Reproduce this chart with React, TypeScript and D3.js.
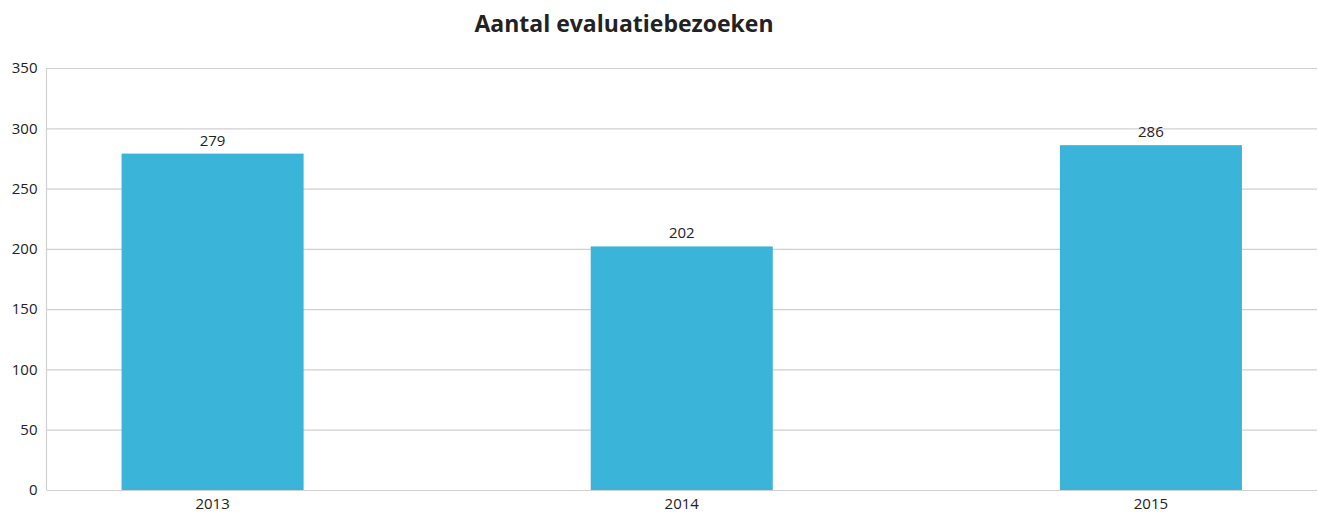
import { useEffect, useRef } from 'react'
import * as d3 from 'd3'

const years = ['2013', '2014', '2015']
const visits = [279, 202, 286]
const yTicks = [0, 50, 100, 150, 200, 250, 300, 350]

const W = 1318
const H = 513
const margin = { top: 68, right: 1, bottom: 23, left: 46.5 }
const font = '"Open Sans", "Noto Sans", sans-serif'

export default function App() {
  const ref = useRef<SVGSVGElement>(null)

  useEffect(() => {
    if (!ref.current) return
    d3.select(ref.current).selectAll('*').remove()
    render(ref.current)
  }, [])

  return (
    <svg
      ref={ref}
      width={W}
      height={H}
      style={{ position: 'absolute', left: 0, top: 0, display: 'block', background: '#fff' }}
    />
  )
}

function render(el: SVGSVGElement) {
  const svg = d3.select(el).style('font-family', font)
  const inner = { w: W - margin.left - margin.right, h: H - margin.top - margin.bottom }
  const g = svg.append('g').attr('transform', `translate(${margin.left},${margin.top})`)

  const x = d3.scaleBand().domain(years).range([0, inner.w]).paddingInner(0.612).paddingOuter(0.16)
  const y = d3.scaleLinear().domain([0, 350]).range([inner.h, 0])

  // Grid
  g.append('g')
    .call(d3.axisLeft(y).tickValues(yTicks).tickSize(-inner.w).tickFormat(() => ''))
    .call((sel) => sel.select('.domain').remove())
    .call((sel) => sel.selectAll('line').attr('stroke', '#d0d0d0').attr('stroke-width', 1.2))

  // Left axis line
  g.append('line')
    .attr('x1', 0).attr('x2', 0)
    .attr('y1', 0).attr('y2', inner.h)
    .attr('stroke', '#d0d0d0')
    .attr('stroke-width', 1.2)

  // Bars
  years.forEach((yr, i) => {
    const v = visits[i]
    g.append('rect')
      .attr('x', x(yr)!)
      .attr('y', y(v))
      .attr('width', x.bandwidth())
      .attr('height', inner.h - y(v))
      .attr('fill', '#3bb4da')

    g.append('text')
      .attr('x', x(yr)! + x.bandwidth() / 2)
      .attr('y', y(v) - 8)
      .attr('text-anchor', 'middle')
      .attr('font-size', 15)
      .attr('fill', '#222')
      .text(v)
  })

  // Y tick labels
  g.append('g')
    .call(d3.axisLeft(y).tickValues(yTicks).tickSize(0).tickPadding(9))
    .call((sel) => sel.select('.domain').remove())
    .call((sel) =>
      sel.selectAll('text')
        .attr('font-size', 15)
        .attr('fill', '#222')
        .attr('font-family', font)
    )

  // X tick labels
  g.append('g')
    .attr('transform', `translate(0,${inner.h})`)
    .call(d3.axisBottom(x).tickSize(0).tickPadding(8))
    .call((sel) => sel.select('.domain').remove())
    .call((sel) =>
      sel.selectAll('text')
        .attr('font-size', 15)
        .attr('fill', '#222')
        .attr('font-family', font)
    )

  // Title
  svg.append('text')
    .attr('x', 624)
    .attr('y', 32)
    .attr('text-anchor', 'middle')
    .attr('font-size', 23)
    .attr('font-weight', 'bold')
    .attr('fill', '#222')
    .text('Aantal evaluatiebezoeken')
}
